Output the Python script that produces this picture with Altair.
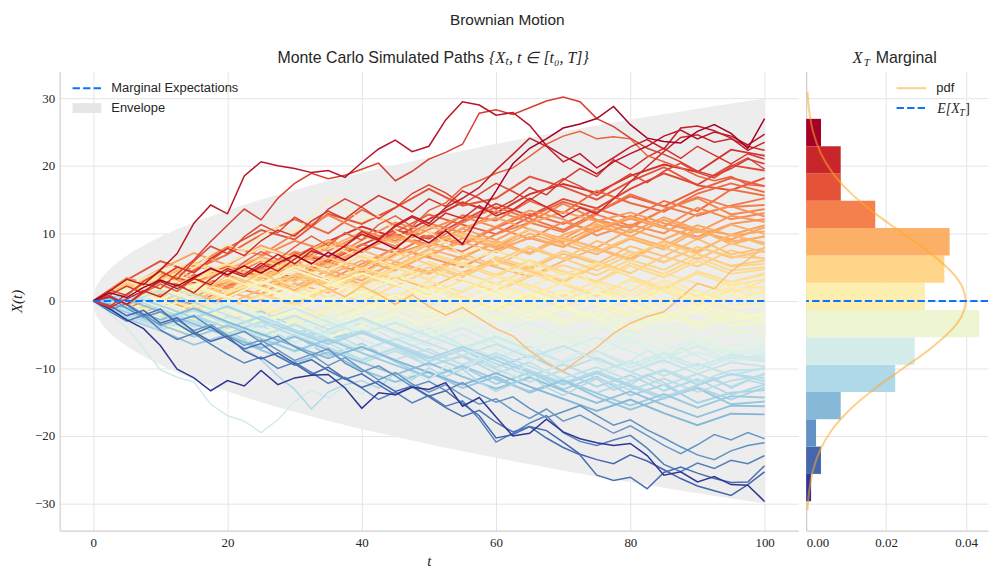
import altair as alt
import pandas as pd

# ---------------- data ----------------
T_FINE = [0, 2.5, 5, 7.5, 10, 12.5, 15, 17.5, 20, 22.5, 25, 27.5, 30, 32.5, 35, 37.5, 40,
          42.5, 45, 47.5, 50, 52.5, 55, 57.5, 60, 62.5, 65, 67.5, 70, 72.5, 75, 77.5, 80,
          82.5, 85, 87.5, 90, 92.5, 95, 97.5, 100]
T_COARSE = [0, 5, 10, 15, 20, 25, 30, 35, 40, 45, 50, 55, 60, 65, 70, 75, 80, 85, 90, 95, 100]

# distinctive paths (read at t step 2.5)
U1 = [0, 1.2, 0.5, 2.0, 3.1, 2.2, 3.5, 4.8, 3.9, 5.2, 4.1, 5.6, 6.8, 5.5, 7.2, 6.0, 7.5, 8.9, 7.7, 9.8,
      8.6, 10.4, 8.4, 12.5, 16.3, 20.3, 22.6, 24.0, 25.6, 26.2, 27.0, 28.8, 26.1, 24.1, 23.6, 23.4, 25.1,
      26.1, 24.8, 22.6, 27.0]
U2 = [0, 1.5, 3.2, 2.4, 4.6, 7.0, 11.5, 14.2, 12.9, 18.5, 20.6, 20.0, 19.6, 19.0, 19.3, 18.3, 20.5, 22.5,
      23.8, 22.1, 22.9, 26.8, 29.5, 29.0, 27.5, 27.9, 26.0, 23.0, 21.5, 20.2, 18.8, 20.6, 21.8, 22.9, 24.4,
      25.3, 24.0, 25.0, 24.4, 23.1, 24.7]
U3 = [0, -0.8, 1.0, 2.6, 1.8, 4.0, 6.1, 8.8, 11.2, 13.6, 12.0, 15.2, 17.4, 18.9, 18.1, 18.6, 19.5, 20.4,
      17.8, 19.2, 21.0, 22.0, 23.2, 27.8, 28.3, 27.6, 28.6, 29.6, 30.2, 29.5, 27.0, 25.8, 24.1, 22.6, 21.7,
      20.6, 19.2, 18.5, 19.6, 21.0, 20.3]
U4 = [0, 0.7, -0.6, 1.2, 2.5, 1.4, 3.3, 4.9, 3.6, 5.8, 7.3, 6.1, 8.0, 9.6, 8.2, 10.1, 9.0, 11.3, 12.6, 11.0,
      13.4, 14.5, 16.8, 17.8, 18.9, 19.7, 21.4, 23.2, 24.4, 25.1, 24.0, 24.3, 24.0, 21.5, 20.6, 19.7, 18.5,
      17.8, 18.4, 17.2, 17.0]
U5 = [0, 0.6, -0.5, 1.4, 2.9, 1.8, 3.3, 2.4, 4.5, 3.6, 5.2, 6.9, 5.5, 7.4, 6.6, 8.2, 9.9, 9.0, 11.2, 12.6,
      11.5, 13.8, 15.2, 16.8, 19.4, 21.7, 24.1, 22.9, 20.6, 21.8, 19.7, 21.2, 22.8, 23.9, 22.5, 25.6, 25.9,
      25.2, 24.1, 22.3, 23.5]
U6 = [0, -1.0, 0.3, 1.5, 0.6, 2.4, 1.2, 3.3, 4.8, 3.9, 5.6, 4.4, 6.2, 7.8, 6.5, 8.1, 10.3, 9.2, 11.0, 12.4,
      11.1, 13.0, 12.2, 14.1, 12.6, 13.5, 15.2, 13.9, 12.4, 13.8, 12.9, 15.1, 17.6, 19.9, 22.1, 24.2, 24.6,
      23.5, 24.0, 22.9, 22.3]
U7 = [0, 0.9, 2.2, 1.1, 3.4, 5.0, 4.2, 6.3, 7.8, 6.7, 8.9, 10.5, 9.6, 11.8, 13.3, 12.1, 14.0, 15.6, 14.5,
      13.2, 15.1, 14.0, 16.3, 15.2, 13.6, 14.9, 16.8, 15.7, 17.9, 19.6, 18.4, 20.9, 19.5, 21.3, 22.6, 21.1,
      22.9, 21.6, 20.3, 21.8, 21.0]
U8 = [0, 1.6, 0.8, 2.9, 4.4, 3.2, 5.9, 8.1, 7.0, 9.5, 11.3, 10.1, 12.4, 11.0, 13.6, 15.1, 13.9, 12.2, 13.8,
      15.9, 17.2, 16.0, 14.3, 15.8, 17.4, 16.2, 14.9, 16.6, 18.1, 17.0, 15.6, 17.3, 18.8, 17.5, 19.2, 20.4,
      19.0, 18.2, 19.9, 21.2, 19.5]
Y1 = [0, 1.4, 3.0, 2.2, 4.1, 5.6, 4.8, 6.9, 8.3, 7.4, 9.6, 11.0, 10.2, 12.5, 15.2, 13.8, 11.9, 12.6, 10.4,
      9.1, 10.3, 8.5, 6.8, 7.9, 5.7, 4.3, 5.8, 3.6, 2.4, 3.9, 2.2, 0.8, 2.5, 1.3, -0.4, 1.0, -0.7, 0.6, 2.0,
      0.9, 1.2]
O1 = [0, 1.1, 2.5, 1.4, 3.0, 4.6, 3.3, 2.1, 3.8, 2.7, 4.2, 2.9, 1.5, 3.1, 1.8, 0.6, 2.2, 1.0, -0.5, 0.9,
      -0.8, -2.1, -1.0, -2.6, -4.1, -5.2, -7.4, -9.1, -10.4, -8.6, -6.9, -4.8, -3.3, -2.3, -1.6, 0.5, 2.6,
      1.8, 4.4, 6.1, 8.0]
L1 = [0, -1.9, -4.0, -7.0, -10.2, -11.3, -12.0, -15.3, -17.0, -17.8, -19.5, -17.6, -14.9, -13.2, -14.4,
      -12.6, -13.8, -11.5, -12.9, -10.7, -11.8, -9.6, -10.9, -8.4, -9.7, -11.0, -9.2, -10.5, -8.8, -7.6,
      -9.1, -10.4, -8.9, -7.3, -8.6, -6.9, -8.1, -9.4, -7.7, -8.8, -8.2]
M1 = [0, 0.4, -1.0, -2.5, -1.7, -3.3, -4.7, -3.9, -5.6, -7.0, -8.7, -11.1, -13.1, -16.0, -13.5, -12.4,
      -11.8, -12.9, -10.6, -11.7, -9.9, -11.2, -10.1, -12.0, -13.4, -12.3, -11.1, -12.8, -14.0, -12.7,
      -11.5, -13.2, -12.4, -10.9, -12.1, -13.6, -12.5, -11.4, -12.9, -11.8, -12.3]
D1 = [0, -1.2, -2.8, -4.1, -6.6, -10.1, -11.4, -13.3, -11.8, -12.6, -10.3, -12.4, -11.4, -11.0, -10.9,
      -12.9, -15.9, -13.6, -13.9, -12.8, -13.1, -12.1, -15.6, -14.3, -17.2, -20.0, -19.6, -17.5, -19.4,
      -20.4, -21.0, -21.4, -21.1, -22.9, -25.8, -25.3, -26.8, -26.0, -27.2, -27.3, -29.7]
D2 = [0, 0.8, -0.6, -2.1, -1.2, -3.4, -4.9, -3.8, -5.6, -7.1, -6.3, -8.2, -9.5, -8.7, -10.3, -11.6, -10.8,
      -12.4, -13.9, -12.7, -14.2, -15.8, -17.1, -16.2, -18.0, -19.4, -18.6, -20.3, -21.7, -22.8, -25.8,
      -26.6, -26.1, -27.8, -25.4, -24.6, -25.5, -26.3, -26.9, -26.8, -24.4]
D3 = [0, -0.7, -2.2, -1.4, -3.3, -2.5, -4.6, -6.0, -5.2, -7.4, -8.6, -7.7, -9.3, -10.9, -9.8, -11.5, -12.8,
      -11.9, -13.4, -12.6, -14.1, -13.3, -15.2, -17.0, -20.3, -19.8, -18.6, -19.2, -20.9, -22.7, -23.5,
      -24.1, -22.8, -23.7, -25.0, -26.3, -27.4, -28.1, -28.8, -27.2, -25.3]
D4 = [0, -1.3, -0.4, -2.0, -3.6, -2.8, -4.4, -3.5, -5.1, -6.6, -5.8, -7.3, -8.8, -7.9, -9.6, -8.4, -10.1,
      -11.7, -10.6, -12.3, -13.5, -12.4, -14.0, -15.3, -14.5, -16.2, -17.4, -16.0, -17.8, -16.9, -18.2,
      -19.6, -18.5, -19.9, -21.4, -22.6, -21.3, -19.8, -20.6, -19.5, -20.4]
D5 = [0, 0.5, -1.1, -2.4, -1.6, -3.0, -2.2, -3.9, -5.3, -4.5, -6.1, -5.2, -6.8, -8.0, -7.1, -9.2, -10.5,
      -9.6, -11.1, -12.7, -11.9, -13.3, -12.1, -13.8, -15.0, -14.2, -15.9, -17.3, -16.4, -15.5, -17.0,
      -18.4, -17.6, -19.1, -20.3, -21.6, -22.8, -23.5, -22.2, -21.4, -21.0]
D6 = [0, -1.6, -3.0, -2.1, -4.3, -5.7, -4.8, -6.4, -7.9, -9.2, -8.3, -10.0, -9.1, -10.6, -12.2, -11.3,
      -12.9, -14.6, -13.5, -15.1, -14.0, -15.6, -14.8, -17.5, -20.9, -19.6, -18.1, -17.0, -19.5, -20.8,
      -21.4, -20.6, -19.9, -21.8, -24.2, -25.3, -24.0, -24.8, -23.6, -24.1, -22.9]

# bulk paths (read at t step 5)
B01 = [0, 2.1, 4.0, 2.7, 5.5, 7.9, 6.2, 8.8, 11.0, 9.4, 12.1, 14.6, 13.0, 15.8, 17.3, 16.0, 18.5, 20.2, 19.1, 22.4, 21.5]
B02 = [0, -1.2, 1.5, 3.6, 2.0, 4.9, 7.1, 5.8, 8.3, 10.5, 9.2, 11.9, 14.4, 12.6, 15.1, 13.7, 16.6, 18.9, 17.2, 20.1, 19.3]
B03 = [0, 1.8, 0.4, 3.2, 5.1, 4.0, 6.6, 9.0, 7.5, 10.2, 12.8, 11.3, 9.9, 12.4, 14.7, 13.1, 15.5, 14.0, 16.4, 18.2, 17.0]
B04 = [0, 2.5, 1.0, 3.9, 2.3, 4.8, 3.4, 6.0, 8.4, 7.1, 9.7, 8.3, 10.8, 12.9, 11.4, 13.6, 12.2, 14.8, 13.3, 16.5, 15.6]
B05 = [0, -1.5, 0.8, -0.6, 2.1, 4.4, 3.0, 5.7, 4.2, 6.9, 8.6, 7.3, 9.9, 11.6, 10.2, 12.8, 11.1, 13.5, 15.4, 13.9, 14.2]
B06 = [0, 1.2, 3.4, 5.3, 3.9, 6.6, 8.9, 7.4, 9.8, 8.1, 10.6, 12.5, 10.9, 9.2, 11.7, 10.3, 12.6, 11.0, 13.8, 12.1, 13.0]
B07 = [0, 0.7, -0.9, 1.6, 3.3, 2.0, 4.7, 3.1, 5.5, 7.8, 6.4, 5.0, 7.6, 9.3, 8.0, 10.4, 12.2, 10.8, 9.5, 11.4, 12.1]
B08 = [0, -0.8, 1.9, 0.6, 2.8, 5.2, 6.9, 5.4, 7.7, 9.6, 8.2, 10.7, 9.0, 11.5, 13.2, 11.8, 10.1, 12.4, 10.6, 9.8, 11.2]
B09 = [0, 1.4, -0.3, 2.2, 0.9, 3.5, 2.1, 4.6, 3.0, 5.8, 4.3, 6.7, 8.5, 7.0, 9.3, 7.9, 10.6, 9.1, 11.2, 9.7, 10.3]
B10 = [0, 2.3, 3.9, 2.4, 4.8, 6.5, 5.1, 7.9, 10.2, 8.6, 11.1, 9.4, 7.8, 10.0, 8.4, 6.9, 9.2, 7.6, 10.4, 8.8, 9.5]
B11 = [0, -1.1, -2.5, -0.7, 1.3, 0.1, 2.6, 1.2, 3.7, 5.4, 4.0, 6.3, 5.0, 3.6, 5.9, 7.8, 6.3, 8.9, 7.4, 9.7, 8.6]
B12 = [0, 0.9, 2.6, 1.1, -0.5, 1.7, 3.8, 2.4, 4.9, 3.3, 1.9, 4.2, 6.1, 4.7, 7.0, 5.5, 8.1, 6.6, 9.2, 6.9, 7.8]
B13 = [0, -1.7, 0.2, 2.4, 1.0, 3.3, 5.6, 4.1, 6.8, 5.2, 7.5, 9.8, 8.3, 10.6, 9.0, 7.3, 9.4, 7.9, 6.2, 8.5, 7.2]
B14 = [0, 1.6, 0.3, -1.4, 0.8, 2.9, 1.6, 3.8, 6.0, 4.5, 6.9, 8.7, 7.2, 9.5, 8.0, 10.8, 12.4, 10.9, 9.1, 11.3, 9.9]
B15 = [0, 1.0, -0.8, 1.3, 3.1, 1.7, 4.0, 2.6, 0.9, 3.2, 5.0, 3.5, 5.9, 4.4, 2.8, 5.1, 7.3, 5.8, 8.0, 6.6, 6.3]
B16 = [0, -2.0, -0.6, -2.4, -1.1, 1.0, -0.4, 1.8, 3.7, 2.2, 4.5, 2.9, 1.4, 3.6, 5.3, 3.8, 6.1, 4.6, 7.0, 5.1, 5.5]
B17 = [0, 2.6, 1.2, 3.5, 5.4, 3.9, 6.3, 8.2, 6.5, 4.9, 7.1, 5.6, 3.9, 6.0, 4.4, 2.8, 5.2, 3.5, 5.9, 4.0, 4.7]
B18 = [0, 0.6, 2.1, 0.4, -1.3, 0.9, -0.6, 1.6, -0.2, 2.3, 0.8, 3.0, 1.5, 4.1, 2.4, 0.7, 3.2, 1.6, 4.4, 2.8, 3.9]
B19 = [0, -0.9, 1.3, 3.0, 1.4, 3.8, 2.2, 0.5, 2.7, 4.9, 3.1, 5.6, 7.4, 5.8, 3.9, 5.7, 3.6, 1.9, 4.0, 2.3, 3.2]
B20 = [0, 1.9, 3.6, 5.8, 4.1, 2.3, 4.6, 6.4, 4.8, 7.2, 5.4, 3.7, 5.9, 8.1, 6.3, 4.5, 6.8, 8.6, 6.9, 5.2, 6.0]
B21 = [0, -1.3, 0.5, -1.0, 1.2, 2.9, 1.4, -0.4, 1.7, 0.0, 2.3, 0.6, -1.2, 0.9, 2.7, 1.0, 3.1, 1.4, -0.3, 1.6, 2.1]
B22 = [0, 1.7, 3.5, 2.0, 4.3, 2.6, 5.1, 3.3, 1.5, 3.9, 2.1, 0.3, 2.6, 0.8, -1.0, 1.2, -0.6, 1.8, 0.1, 2.2, 1.0]
B23 = [0, -0.6, -2.2, -0.5, -2.8, -1.1, -3.3, -1.6, 0.4, -1.5, 0.8, -0.9, 1.3, -0.6, 1.6, -0.2, -2.0, 0.3, -1.7, 0.8, 0.2]
B24 = [0, 1.1, -0.5, 1.6, 3.4, 1.7, 0.1, 2.2, 4.1, 2.5, 0.6, 2.8, 1.0, -0.8, 1.3, -0.5, -2.3, -0.6, 1.2, -1.0, -0.7]
B25 = [0, -1.8, -3.4, -1.9, -4.1, -2.3, -0.4, -2.5, -0.8, 1.1, -0.7, 1.5, 3.6, 1.8, 0.0, 2.1, 0.4, 2.6, 0.7, 2.9, 1.8]
B26 = [0, 0.8, -1.0, -2.7, -1.2, -3.0, -1.4, 0.5, -1.3, 0.9, -0.8, -2.6, -0.9, 1.2, -0.6, -2.4, -0.7, -2.9, -1.1, -3.0, -1.9]
B27 = [0, -1.4, 0.3, 2.1, 0.5, 2.8, 1.1, -0.6, 1.4, -0.3, -2.1, -0.4, -2.5, -0.8, -2.9, -1.2, 0.6, -1.5, -3.2, -1.4, -2.6]
B28 = [0, 1.5, 0.0, -1.8, -3.6, -2.0, -4.1, -2.4, -0.5, -2.6, -4.4, -2.7, -0.9, -3.0, -1.2, -3.3, -5.1, -3.4, -1.6, -3.8, -3.4]
B29 = [0, -0.9, -2.6, -1.0, -2.9, -4.7, -3.0, -1.2, -3.3, -1.6, 0.2, -1.7, -3.5, -1.8, -3.9, -2.2, -4.3, -6.1, -4.4, -2.7, -4.1]
B30 = [0, 0.4, 2.0, 0.3, -1.5, 0.6, -1.1, -2.9, -1.2, -3.4, -5.2, -3.5, -1.7, -3.8, -5.6, -3.9, -2.1, -4.2, -6.0, -4.3, -4.8]
B31 = [0, -1.6, -3.3, -5.0, -3.2, -5.3, -3.6, -5.4, -3.7, -1.9, -3.8, -2.0, -0.2, -2.1, -0.4, 1.3, -0.5, -2.2, -0.4, -1.9, -2.2]
B32 = [0, 2.0, 0.2, 2.3, 4.2, 2.5, 4.6, 2.9, 1.1, 3.2, 1.4, -0.4, 1.7, -0.1, -1.9, 0.2, -1.6, -3.4, -1.5, -3.6, -3.0]
B33 = [0, -1.1, -2.9, -1.2, -3.1, -5.0, -3.2, -5.3, -7.1, -5.4, -3.6, -5.7, -7.5, -5.8, -4.0, -6.1, -4.3, -6.4, -8.2, -6.5, -6.0]
B34 = [0, 1.3, -0.4, -2.2, -0.5, -2.5, -4.3, -2.6, -4.6, -6.4, -4.7, -2.9, -5.0, -3.2, -5.3, -7.1, -5.4, -7.4, -5.6, -7.6, -6.9]
B35 = [0, -0.6, -2.4, -4.2, -2.5, -4.5, -6.3, -4.6, -2.8, -4.9, -6.7, -5.0, -7.1, -8.9, -7.2, -5.4, -7.5, -9.3, -7.6, -9.0, -7.7]
B36 = [0, 0.9, 2.5, 0.8, -1.0, -2.8, -1.1, -3.1, -4.9, -3.2, -5.2, -7.0, -5.3, -7.3, -9.1, -7.4, -9.4, -7.7, -9.7, -8.0, -8.6]
B37 = [0, -1.9, -3.6, -1.9, -0.1, -2.1, -3.9, -2.2, -4.2, -2.5, -4.5, -2.8, -4.8, -6.6, -4.9, -6.9, -5.2, -3.4, -5.5, -7.3, -5.7]
B38 = [0, -1.4, -3.1, -1.4, -3.4, -5.2, -3.5, -5.5, -7.3, -5.6, -7.6, -9.4, -7.7, -9.7, -11.5, -9.8, -11.8, -10.1, -12.0, -10.3, -10.1]
B39 = [0, 0.6, -1.2, -3.0, -4.8, -3.1, -5.1, -6.9, -8.7, -7.0, -9.0, -7.3, -9.3, -11.1, -9.4, -11.4, -13.2, -11.5, -13.5, -11.8, -11.0]
B40 = [0, -2.1, -3.8, -2.1, -4.0, -2.3, -4.3, -6.1, -4.4, -6.4, -8.2, -10.0, -8.3, -10.3, -12.1, -10.4, -12.4, -14.2, -12.5, -10.8, -11.9]
B41 = [0, 1.0, -0.7, -2.5, -0.8, -2.8, -4.6, -6.4, -4.7, -6.7, -8.5, -6.8, -8.8, -10.6, -12.4, -10.7, -12.7, -14.5, -12.8, -14.6, -12.8]
B42 = [0, -0.3, 1.5, -0.3, -2.1, -3.9, -2.2, -4.2, -2.5, -4.5, -6.3, -8.1, -6.4, -8.4, -6.7, -8.7, -10.5, -8.8, -10.8, -9.1, -9.7]
B43 = [0, -1.7, -3.5, -5.3, -3.6, -5.6, -7.4, -5.7, -7.7, -9.5, -11.3, -9.6, -11.6, -13.4, -11.7, -13.7, -15.5, -13.8, -15.8, -14.1, -14.3]
B44 = [0, 0.2, -1.6, -3.4, -5.2, -7.0, -5.3, -7.3, -9.1, -10.9, -9.2, -11.2, -13.0, -11.3, -13.3, -15.1, -13.4, -15.4, -17.2, -15.5, -15.6]
B45 = [0, -1.0, -2.8, -1.1, -3.1, -4.9, -6.7, -8.5, -6.8, -8.8, -10.6, -12.4, -10.7, -12.7, -14.5, -16.3, -14.6, -16.6, -18.4, -16.7, -16.8]
C01 = [0, 3.1, 5.9, 4.2, 7.8, 10.5, 9.1, 12.9, 11.4, 13.8, 16.6, 14.1, 15.2, 18.4, 16.9, 15.0, 17.7, 19.8, 17.1, 16.4, 18.2]
C02 = [0, 2.4, 1.1, 4.6, 6.9, 9.8, 12.1, 10.0, 13.5, 11.2, 9.4, 12.7, 11.9, 14.8, 13.0, 16.3, 14.5, 13.2, 15.9, 17.4, 16.1]
C03 = [0, -0.6, 2.9, 1.6, 3.2, 6.0, 5.1, 8.7, 7.2, 9.9, 8.3, 11.6, 13.9, 12.2, 10.5, 13.1, 15.8, 14.0, 12.6, 14.1, 15.2]
C04 = [0, 3.4, 2.0, 5.2, 8.1, 6.8, 9.9, 12.7, 10.4, 8.9, 11.5, 10.1, 13.3, 11.7, 14.4, 12.0, 10.8, 13.5, 15.2, 12.8, 13.6]
C05 = [0, 1.3, 4.2, 3.0, 1.8, 4.5, 7.3, 6.1, 9.0, 11.6, 10.2, 8.5, 11.0, 13.4, 12.1, 9.7, 11.3, 10.0, 12.9, 14.0, 12.5]
C06 = [0, -1.4, 0.9, 3.6, 2.2, 1.0, 3.8, 6.4, 5.0, 7.9, 6.5, 9.3, 8.0, 10.6, 9.2, 11.8, 13.1, 11.5, 10.2, 12.6, 11.7]
C07 = [0, 2.0, 4.7, 7.1, 5.3, 8.2, 6.4, 4.9, 7.6, 9.4, 8.0, 10.8, 12.3, 10.6, 8.7, 11.1, 9.5, 12.0, 10.3, 9.1, 10.9]
C08 = [0, -2.3, -0.8, 1.9, 0.4, 2.7, 5.6, 4.0, 2.5, 5.1, 7.7, 6.3, 8.9, 7.1, 9.8, 11.4, 9.6, 8.1, 10.7, 8.4, 9.6]
C09 = [0, 1.0, 3.5, 2.1, 4.9, 3.3, 6.2, 8.9, 7.5, 5.8, 8.4, 10.1, 8.6, 6.9, 9.5, 7.7, 6.0, 8.8, 7.1, 9.9, 8.3]
C10 = [0, 2.8, 1.3, -0.2, 2.6, 4.1, 2.9, 5.5, 4.0, 6.7, 8.5, 7.0, 5.2, 7.8, 6.2, 8.9, 7.3, 5.7, 8.0, 6.4, 7.4]
C11 = [0, -1.0, 1.7, 0.2, -1.5, 0.8, 3.4, 2.0, 4.7, 3.1, 1.6, 3.9, 6.5, 5.0, 7.4, 5.8, 4.1, 6.6, 5.1, 7.5, 6.2]
C12 = [0, 1.9, 0.5, 3.1, 4.8, 3.0, 1.2, 3.7, 2.2, 4.6, 6.9, 5.3, 3.6, 6.0, 4.3, 2.9, 5.6, 4.0, 6.4, 4.5, 5.0]
C13 = [0, 0.7, 2.9, 5.5, 3.8, 6.1, 4.4, 2.6, 4.9, 3.4, 5.8, 4.2, 2.5, 4.7, 3.1, 5.4, 3.6, 1.9, 4.3, 2.8, 4.1]
C14 = [0, -1.6, -0.3, 1.8, 0.3, -1.2, 1.1, 3.6, 2.0, 0.6, 2.9, 1.3, 3.8, 2.3, 0.7, 3.0, 1.5, 4.1, 2.6, 1.1, 3.0]
C15 = [0, 2.2, 4.5, 3.0, 5.6, 7.9, 6.3, 4.5, 6.8, 5.0, 3.3, 5.5, 3.8, 2.1, 4.2, 2.6, 0.9, 3.1, 1.4, -0.1, 1.6]
C16 = [0, -0.4, 1.8, 0.1, -2.0, -0.5, -2.6, -1.0, 1.2, -0.3, 2.0, 0.4, -1.4, 0.7, -0.9, 1.4, -0.2, 2.1, 0.6, -1.1, 0.5]
C17 = [0, 1.4, 3.0, 1.2, 3.6, 2.0, 0.3, 2.5, 0.9, -0.8, 1.6, 3.9, 2.1, 0.5, 2.8, 1.0, -0.7, 1.5, -0.2, 1.3, -0.4]
C18 = [0, -2.1, -0.6, -2.9, -4.6, -2.8, -1.0, -3.2, -1.5, 0.2, -1.7, 0.6, -1.0, -2.8, -0.9, -2.6, -4.3, -2.4, -0.6, -2.5, -1.8]
C19 = [0, 0.9, -1.2, 0.7, -1.4, -3.3, -1.6, -3.9, -2.2, -4.4, -2.7, -0.9, -2.9, -1.2, -3.4, -1.7, -3.8, -2.0, -4.1, -2.3, -3.1]
C20 = [0, -1.5, -3.6, -2.0, -0.4, -2.3, -4.5, -3.0, -5.2, -3.6, -1.8, -3.9, -2.2, -4.3, -6.0, -4.2, -2.5, -4.6, -2.9, -5.0, -4.4]
C21 = [0, 1.7, 0.1, 2.4, 0.6, -1.1, 1.2, -0.6, -2.5, -0.8, -2.9, -1.1, 0.7, -1.3, -3.0, -1.2, -3.3, -1.5, -3.6, -1.9, -2.9]
C22 = [0, -0.8, -2.7, -4.9, -3.3, -5.6, -4.0, -2.3, -4.4, -6.3, -4.6, -6.8, -5.1, -7.3, -5.5, -3.8, -5.9, -7.9, -6.0, -8.1, -6.4]
C23 = [0, 1.2, -0.6, -2.8, -1.0, -3.1, -5.3, -3.5, -5.7, -7.6, -5.8, -4.0, -6.2, -8.3, -6.6, -8.7, -10.4, -8.5, -6.7, -8.9, -8.0]
C24 = [0, -2.4, -4.3, -2.6, -4.8, -6.9, -5.1, -7.3, -9.2, -7.4, -9.6, -8.0, -10.1, -12.0, -10.2, -8.4, -10.5, -12.5, -10.8, -12.7, -10.7]
E01 = [0, -1.3, -3.9, -2.1, -4.6, -6.8, -5.0, -8.1, -6.3, -9.0, -11.4, -9.7, -12.3, -10.6, -13.1, -11.2, -14.0, -12.4, -15.1, -13.6, -13.2]
E02 = [0, 0.8, -1.6, -3.8, -2.4, -5.2, -7.5, -6.1, -8.8, -7.0, -9.6, -8.2, -10.7, -9.1, -11.8, -13.6, -11.9, -10.3, -12.4, -10.8, -11.5]
E03 = [0, -2.0, -0.7, -2.9, -5.1, -3.6, -6.2, -4.4, -6.9, -8.7, -7.1, -9.5, -8.0, -10.4, -12.2, -10.6, -8.9, -11.1, -9.3, -11.0, -9.9]
E04 = [0, 1.1, -0.9, -2.6, -1.1, -3.7, -2.2, -4.9, -3.3, -5.8, -4.1, -6.6, -8.4, -6.7, -9.1, -7.4, -9.9, -8.1, -10.2, -8.4, -8.9]
E05 = [0, -1.1, -3.2, -5.0, -6.9, -5.2, -7.8, -6.0, -8.5, -6.7, -4.9, -7.2, -5.5, -7.9, -9.6, -7.8, -6.1, -8.3, -6.6, -8.2, -7.3]
E06 = [0, -0.4, 1.3, -0.9, -2.8, -1.5, -3.9, -5.7, -4.3, -6.6, -8.9, -7.2, -9.8, -8.1, -10.5, -12.7, -11.0, -13.3, -11.6, -13.9, -12.4]
E07 = [0, -2.6, -4.4, -6.5, -5.0, -7.3, -9.1, -7.6, -10.2, -12.0, -10.5, -12.9, -11.2, -13.6, -11.8, -14.2, -16.1, -14.4, -12.9, -15.3, -14.9]
E08 = [0, 1.6, 0.2, -1.9, -0.3, -2.4, -4.2, -2.7, -4.8, -3.1, -5.3, -3.6, -5.8, -7.4, -5.7, -7.8, -6.2, -8.0, -6.3, -4.9, -5.9]

# envelope (half width read at several times)
ENV_T = [0, 0.25, 1, 2.25, 4, 6.25, 9, 12.25, 16, 20.25, 25, 30.25, 36, 42.25, 49, 56.25, 64, 72.25, 81, 90.25, 100]
ENV_HALF = [0, 1.5, 3, 4.5, 6, 7.5, 9, 10.5, 12, 13.5, 15, 16.5, 18, 19.5, 21, 22.5, 24, 25.5, 27, 28.5, 30]

# marginal expectation
EXP_T = [0, 100]
EXP_V = [0, 0]

# histogram of X_T (200 paths)
N_PATHS = 200
BIN_LO = [-29.66, -25.62, -21.57, -17.53, -13.48, -9.44, -5.39, -1.35, 2.69, 6.74, 10.78, 14.83, 18.87, 22.92]
BIN_HI = [-25.62, -21.57, -17.53, -13.48, -9.44, -5.39, -1.35, 2.69, 6.74, 10.78, 14.83, 18.87, 22.92, 26.96]
BIN_COUNT = [1, 3, 2, 7, 18, 22, 35, 24, 28, 29, 14, 7, 7, 3]

# pdf curve
PDF_V = [-31, -28, -25, -22, -19, -16, -13, -10, -7, -4, -2, 0, 2, 4, 7, 10, 13, 16, 19, 22, 25, 28, 31]
PDF_D = [0.00033, 0.00079, 0.00175, 0.00355, 0.00656, 0.01109, 0.01714, 0.02420, 0.03123, 0.03683, 0.03910,
         0.03989, 0.03910, 0.03683, 0.03123, 0.02420, 0.01714, 0.01109, 0.00656, 0.00355, 0.00175, 0.00079,
         0.00033]

# ---------------- styling ----------------
SANS = "Liberation Sans"
SERIF = "Liberation Serif"
TXT = "#262626"
BLUE = "#0a74ff"
PDF_COLOR = "#ffa726"
ENV_COLOR = "#ededed"
DASH = [7.4, 3.2]
W_L, W_R, H = 743, 183, 462

bulk_paths = [B01, C01, E01, B02, C02, B03, C03, E02, B04, C04, B05, C05, E03, B06, C06, B07, C07, E04,
              B08, C08, B09, C09, E05, B10, C10, B11, C11, E06, B12, C12, B13, C13, E07, B14, C14, B15,
              C15, E08, B16, C16, B17, C17, B18, C18, B19, C19, B20, C20, B21, C21, B22, C22, B23, C23,
              B24, C24, B25, B26, B27, B28, B29, B30, B31, B32, B33, B34, B35, B36, B37, B38, B39, B40,
              B41, B42, B43, B44, B45]
outlier_paths = [O1, Y1, L1, M1, D6, D5, D4, D3, D2, D1, U8, U7, U4, U6, U3, U2, U5, U1]


def long_table(paths, times, prefix):
    rows = []
    for i, p in enumerate(paths):
        for t, v in zip(times, p):
            rows.append({"path": f"{prefix}{i:02d}", "t": t, "v": v, "final": p[-1]})
    return pd.DataFrame(rows)


bulk_df = long_table(bulk_paths, T_COARSE, "b")
out_df = long_table(outlier_paths, T_FINE, "o")
finals = [p[-1] for p in bulk_paths + outlier_paths]
color_scale = alt.Scale(scheme="redyellowblue", reverse=True, domain=[min(finals), max(finals)])

y_scale = alt.Scale(domain=[-34, 34], nice=False, zero=False)
Y_TICKS = [-30, -20, -10, 0, 10, 20, 30]
x_left = alt.X("t:Q", scale=alt.Scale(domain=[-5, 105], nice=False, zero=False),
               axis=alt.Axis(values=[0, 20, 40, 60, 80, 100], title="t", ticks=False,
                             labelPadding=6, titlePadding=4))
y_left_axis = alt.Axis(values=Y_TICKS, title="X(t)", ticks=False, labelPadding=5, titlePadding=10)
y_left = alt.Y("v:Q", scale=y_scale, axis=y_left_axis)

one = pd.DataFrame({"k": [0]})

env_df = pd.DataFrame({"t": ENV_T, "hi": ENV_HALF, "lo": [-h for h in ENV_HALF]})
envelope = alt.Chart(env_df).mark_area(color=ENV_COLOR, interpolate="monotone").encode(
    x=x_left, y=alt.Y("hi:Q", scale=y_scale, axis=y_left_axis), y2="lo:Q")

bulk_lines = alt.Chart(bulk_df).mark_line(strokeWidth=1.9, opacity=1).encode(
    x=x_left, y=y_left, detail="path:N", order="t:Q",
    color=alt.Color("final:Q", scale=color_scale, legend=None))
out_lines = alt.Chart(out_df).mark_line(strokeWidth=1.5, opacity=1).encode(
    x=x_left, y=y_left, detail="path:N", order="t:Q",
    color=alt.Color("final:Q", scale=color_scale, legend=None))

exp_line = alt.Chart(pd.DataFrame({"t": EXP_T, "v": EXP_V})).mark_line(
    color=BLUE, strokeWidth=2, strokeDash=DASH).encode(x=x_left, y=y_left)

# left legend
leg_l = [
    alt.Chart(one).mark_rule(color=BLUE, strokeWidth=2, strokeDash=DASH).encode(
        x=alt.value(13), x2=alt.value(42), y=alt.value(17)),
    alt.Chart(one).mark_rect(color="#e6e6e6").encode(
        x=alt.value(13), x2=alt.value(42), y=alt.value(32), y2=alt.value(42)),
    alt.Chart(one).mark_text(align="left", baseline="middle", font=SANS, fontSize=13, color=TXT).encode(
        x=alt.value(52), y=alt.value(17), text=alt.value("Marginal Expectations")),
    alt.Chart(one).mark_text(align="left", baseline="middle", font=SANS, fontSize=13, color=TXT).encode(
        x=alt.value(52), y=alt.value(37), text=alt.value("Envelope")),
]
# left panel title
title_l = [
    alt.Chart(one).mark_text(align="right", baseline="alphabetic", font=SANS, fontSize=16, color=TXT).encode(
        x=alt.value(427), y=alt.value(-8), text=alt.value("Monte Carlo Simulated Paths")),
    alt.Chart(one).mark_text(align="left", baseline="alphabetic", font=SERIF, fontSize=16, color=TXT,
                             fontStyle="italic").encode(
        x=alt.value(432), y=alt.value(-8), text=alt.value("{Xₜ, t ∈ [t₀, T]}")),
]

left = alt.layer(envelope, bulk_lines, out_lines, exp_line, *leg_l, *title_l).properties(
    width=W_L, height=H)

# ---------------- right panel ----------------
hist_df = pd.DataFrame({
    "lo": BIN_LO, "hi": BIN_HI,
    "density": [c / (N_PATHS * (h - l)) for c, l, h in zip(BIN_COUNT, BIN_LO, BIN_HI)],
    "bin": list(range(len(BIN_COUNT))),
})
x_right_scale = alt.Scale(domain=[0, 0.0455], nice=False, zero=False)
x_right_axis = alt.Axis(values=[0, 0.02, 0.04], format=".2f", title=None, ticks=False, labelPadding=6)
y_right_axis = alt.Axis(values=Y_TICKS, labels=False, title=None, ticks=False)

bars = alt.Chart(hist_df).mark_rect().encode(
    x=alt.X("density:Q", scale=x_right_scale, axis=x_right_axis), x2=alt.datum(0),
    y=alt.Y("lo:Q", scale=y_scale, axis=y_right_axis), y2="hi:Q",
    color=alt.Color("bin:Q", scale=alt.Scale(scheme="redyellowblue", reverse=True,
                                              domain=[0, len(BIN_COUNT) - 1]), legend=None))

pdf_line = alt.Chart(pd.DataFrame({"v": PDF_V, "density": PDF_D})).mark_line(
    color=PDF_COLOR, opacity=0.55, strokeWidth=2, interpolate="catmull-rom").encode(
    x=alt.X("density:Q", scale=x_right_scale, axis=x_right_axis),
    y=alt.Y("v:Q", scale=y_scale, axis=y_right_axis), order="v:Q")

exp_rule = alt.Chart(pd.DataFrame({"v": [EXP_V[-1]]})).mark_rule(
    color=BLUE, strokeWidth=2, strokeDash=DASH).encode(
    y=alt.Y("v:Q", scale=y_scale, axis=y_right_axis))

leg_r = [
    alt.Chart(one).mark_rule(color=PDF_COLOR, opacity=0.55, strokeWidth=2).encode(
        x=alt.value(91), x2=alt.value(121), y=alt.value(17)),
    alt.Chart(one).mark_text(align="left", baseline="middle", font=SANS, fontSize=13, color=TXT).encode(
        x=alt.value(131), y=alt.value(17), text=alt.value("pdf")),
    alt.Chart(one).mark_rule(color=BLUE, strokeWidth=2, strokeDash=DASH).encode(
        x=alt.value(91), x2=alt.value(121), y=alt.value(37)),
    alt.Chart(one).mark_text(align="left", baseline="alphabetic", font=SERIF, fontSize=14, color=TXT,
                             fontStyle="italic").encode(
        x=alt.value(132), y=alt.value(42), text=alt.value("E[X")),
    alt.Chart(one).mark_text(align="left", baseline="alphabetic", font=SERIF, fontSize=10, color=TXT,
                             fontStyle="italic").encode(
        x=alt.value(154), y=alt.value(45), text=alt.value("T")),
    alt.Chart(one).mark_text(align="left", baseline="alphabetic", font=SERIF, fontSize=14, color=TXT).encode(
        x=alt.value(160), y=alt.value(42), text=alt.value("]")),
]
title_r = [
    alt.Chart(one).mark_text(align="left", baseline="alphabetic", font=SERIF, fontSize=16, color=TXT,
                             fontStyle="italic").encode(
        x=alt.value(47), y=alt.value(-8), text=alt.value("X")),
    alt.Chart(one).mark_text(align="left", baseline="alphabetic", font=SERIF, fontSize=11, color=TXT,
                             fontStyle="italic").encode(
        x=alt.value(58), y=alt.value(-5), text=alt.value("T")),
    alt.Chart(one).mark_text(align="left", baseline="alphabetic", font=SANS, fontSize=16, color=TXT).encode(
        x=alt.value(70), y=alt.value(-8), text=alt.value("Marginal")),
]

right = alt.layer(bars, pdf_line, exp_rule, *leg_r, *title_r).properties(width=W_R, height=H)

chart = (
    alt.hconcat(left, right, spacing=5)
    .resolve_scale(x="independent", y="independent", color="independent")
    .properties(
        title=alt.Title("Brownian Motion", font=SANS, fontSize=15.5, fontWeight="normal", color=TXT,
                        anchor="middle", offset=22, dx=8),
        padding={"left": 9, "right": 9, "top": 11, "bottom": 5},
    )
    .configure_axis(gridColor="#e5e5e5", gridWidth=1, domainColor="#cfcfcf", domainWidth=1.2,
                    labelFont=SERIF, labelFontSize=13, labelColor=TXT,
                    titleFont=SERIF, titleFontSize=15, titleFontStyle="italic",
                    titleFontWeight="normal", titleColor=TXT)
    .configure_view(stroke=None)
)

chart.save("out.html", embed_options={"renderer": "svg", "actions": False})
